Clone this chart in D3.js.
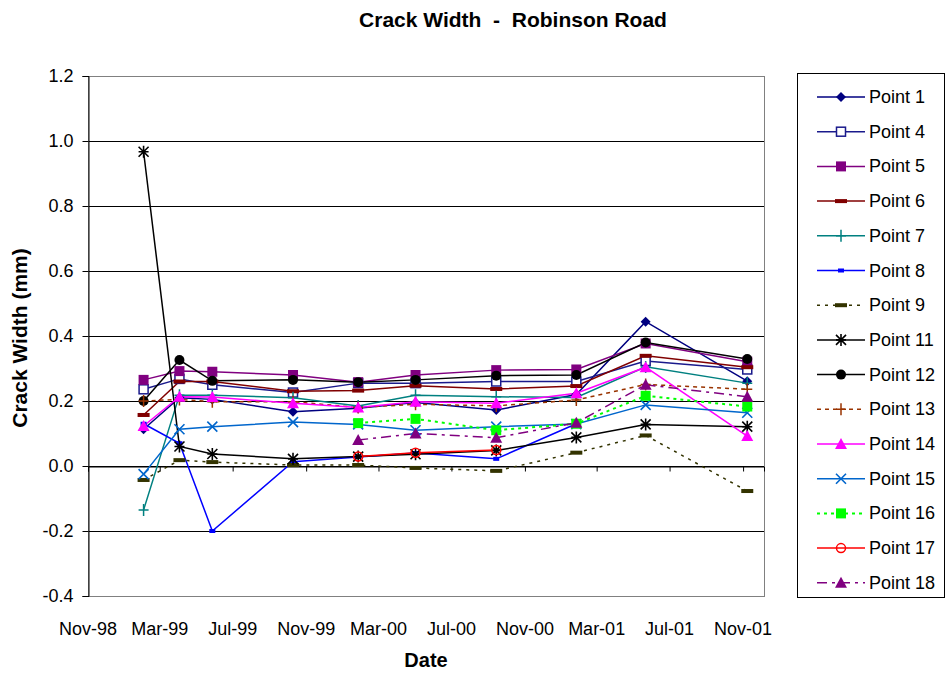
<!DOCTYPE html>
<html><head><meta charset="utf-8">
<script src="https://cdn.jsdelivr.net/npm/d3@7"></script>
<style>body{margin:0;background:#fff}svg{display:block;font-family:"Liberation Sans",Arial,sans-serif}</style>
</head><body><svg id="c" width="946" height="673"></svg>
<script>
const dates = ["1999-02-02","1999-04-03","1999-05-28","1999-10-10","2000-01-27","2000-05-02","2000-09-14","2001-01-26","2001-05-22","2001-11-08"];
const tickDates = ["1998-11-01","1999-03-01","1999-07-01","1999-11-01","2000-03-01","2000-07-01","2000-11-01","2001-03-01","2001-07-01","2001-11-01"];
const yTicks = [-0.4,-0.2,0,0.2,0.4,0.6,0.8,1.0,1.2];
const seriesNames = ["Point 1","Point 4","Point 5","Point 6","Point 7","Point 8","Point 9","Point 11","Point 12","Point 13","Point 14","Point 15","Point 16","Point 17","Point 18"];
const p1  = [0.113,0.21,0.205,0.167,0.178,0.195,0.172,0.22,0.444,0.261];
const p4  = [0.236,0.268,0.25,0.226,0.255,0.255,0.26,0.26,0.323,0.297];
const p5  = [0.265,0.292,0.29,0.28,0.258,0.28,0.295,0.297,0.377,0.321];
const p6  = [0.157,0.26,0.26,0.23,0.232,0.247,0.237,0.246,0.339,0.304];
const p7  = [-0.135,0.218,0.218,0.21,0.185,0.218,0.213,0.211,0.305,0.255];
const p8  = [0.13,0.07,-0.2,0.013,0.028,0.04,0.022,0.13,null,null];
const p9  = [-0.043,0.018,0.012,0.003,0.003,-0.006,-0.015,0.041,0.094,-0.077];
const p11 = [0.967,0.06,0.037,0.022,0.029,0.036,0.048,0.088,0.128,0.121];
const p12 = [0.2,0.326,0.262,0.265,0.258,0.265,0.278,0.28,0.38,0.329];
const p13 = [0.2,0.205,0.198,0.198,0.18,0.19,0.185,0.203,0.251,0.236];
const p14 = [0.123,0.213,0.212,0.193,0.18,0.198,0.193,0.224,0.304,0.092];
const p15 = [-0.025,0.113,0.121,0.135,0.128,0.11,0.121,0.129,0.188,0.164];
const p16 = [null,null,null,null,0.132,0.145,0.11,0.13,0.216,0.183];
const p17 = [null,null,null,null,0.029,0.041,0.049,null,null,null];
const p18 = [null,null,null,null,0.08,0.1,0.087,0.133,0.25,0.213];
const seriesValues = [p1,p4,p5,p6,p7,p8,p9,p11,p12,p13,p14,p15,p16,p17,p18];
const colors = ["#000080","#1a1a8c","#800080","#800000","#008080","#0000FF","#333300","#000000","#000000","#993300","#FF00FF","#0066CC","#00FF00","#FF0000","#800080"];
const markers = ["diamond","opensquare","square","dash","plus","smalldash","dash","asterisk","circle","plus","triangle","x","square","opencircle","triangle"];
const dashes = [null,null,null,null,null,null,"3,5",null,null,"4,4",null,null,"3,4",null,"10,5,3,5"];

const parse = d3.timeParse("%Y-%m-%d");
const svg = d3.select("#c");
const L=88,R=764,T=76,B=596;
const x = d3.scaleTime().domain([parse("1998-11-01"), parse("2001-12-06")]).range([L,R]);
const y = d3.scaleLinear().domain([-0.4,1.2]).range([B,T]);

svg.append("g").selectAll("line").data(yTicks.filter(v=>v>-0.39&&v<1.19)).join("line")
  .attr("x1",L).attr("x2",R).attr("y1",d=>Math.round(y(d))+0.5).attr("y2",d=>Math.round(y(d))+0.5)
  .attr("stroke","#000").attr("stroke-width",1);
svg.append("rect").attr("x",L+0.5).attr("y",T+0.5).attr("width",R-L).attr("height",B-T)
  .attr("fill","none").attr("stroke","#808080").attr("stroke-width",1);

const ya = svg.append("g").attr("transform",`translate(${L+0.5},0)`)
  .call(d3.axisLeft(y).tickValues(yTicks).tickSize(6).tickPadding(9).tickFormat(d=>d.toFixed(1)));
ya.select(".domain").attr("stroke","#000");
ya.selectAll("text").attr("font-size",18).attr("fill","#000").attr("font-family","Liberation Sans, Arial");
ya.selectAll(".tick line").attr("stroke","#000");
ya.selectAll(".tick").attr("transform",d=>`translate(0,${Math.round(y(d))+0.5})`);

const y0 = Math.round(y(0))+0.5;
const xa = svg.append("g").attr("transform",`translate(0,${y0})`)
  .call(d3.axisBottom(x).tickValues(tickDates.map(parse)).tickSize(5).tickFormat(""));
xa.select(".domain").attr("stroke","#000");
xa.selectAll(".tick line").attr("stroke","#000");
svg.append("g").selectAll("text").data(tickDates.map(parse)).join("text")
  .attr("x",d=>x(d)).attr("y",635).attr("text-anchor","middle")
  .attr("font-size",18).attr("fill","#000").text(d3.timeFormat("%b-%y"));

function marker(g, type, cx, cy, col){
  switch(type){
    case "diamond": g.append("path").attr("d",`M${cx},${cy-5}L${cx+5},${cy}L${cx},${cy+5}L${cx-5},${cy}Z`).attr("fill",col); break;
    case "opensquare": g.append("rect").attr("x",cx-4.5).attr("y",cy-4.5).attr("width",9).attr("height",9).attr("fill","#fff").attr("stroke",col).attr("stroke-width",1.5); break;
    case "square": g.append("rect").attr("x",cx-5).attr("y",cy-5).attr("width",10).attr("height",10).attr("fill",col); break;
    case "dash": g.append("rect").attr("x",cx-6).attr("y",cy-2).attr("width",12).attr("height",4).attr("fill",col); break;
    case "smalldash": g.append("rect").attr("x",cx-3).attr("y",cy-2).attr("width",6).attr("height",4).attr("fill",col); break;
    case "plus": g.append("path").attr("d",`M${cx-5},${cy}H${cx+5}M${cx},${cy-6}V${cy+6}`).attr("stroke",col).attr("stroke-width",1.5).attr("fill","none"); break;
    case "asterisk": g.append("path").attr("d",`M${cx-5},${cy-5}L${cx+5},${cy+5}M${cx-5},${cy+5}L${cx+5},${cy-5}M${cx},${cy-6}V${cy+6}M${cx-5},${cy}H${cx+5}`).attr("stroke",col).attr("stroke-width",1.6).attr("fill","none"); break;
    case "circle": g.append("circle").attr("cx",cx).attr("cy",cy).attr("r",5).attr("fill",col); break;
    case "opencircle": g.append("circle").attr("cx",cx).attr("cy",cy).attr("r",4.5).attr("fill","none").attr("stroke",col).attr("stroke-width",1.5); break;
    case "triangle": g.append("path").attr("d",`M${cx},${cy-6}L${cx+6},${cy+5}L${cx-6},${cy+5}Z`).attr("fill",col); break;
    case "x": g.append("path").attr("d",`M${cx-5},${cy-5}L${cx+5},${cy+5}M${cx-5},${cy+5}L${cx+5},${cy-5}`).attr("stroke",col).attr("stroke-width",1.6).attr("fill","none"); break;
  }
}

const line = d3.line().defined(d=>d.v!=null).x(d=>x(d.d)).y(d=>y(d.v));
const plot = svg.append("g");
seriesValues.forEach((vals,i)=>{
  const pts = vals.map((v,j)=>({d:parse(dates[j]),v}));
  plot.append("path").datum(pts).attr("d",line).attr("fill","none")
    .attr("stroke",colors[i]).attr("stroke-width",i===12?2:1.5)
    .attr("stroke-dasharray",dashes[i]);
});
seriesValues.forEach((vals,i)=>{
  const g = plot.append("g");
  vals.forEach((v,j)=>{ if(v!=null) marker(g, markers[i], x(parse(dates[j])), y(v), colors[i]); });
});

svg.append("rect").attr("x",797.5).attr("y",73.5).attr("width",147).attr("height",524)
  .attr("fill","#fff").attr("stroke","#000").attr("stroke-width",1);
seriesNames.forEach((n,i)=>{
  const ly = 97 + i*34.7;
  const g = svg.append("g");
  g.append("line").attr("x1",817).attr("x2",865).attr("y1",ly).attr("y2",ly)
    .attr("stroke",colors[i]).attr("stroke-width",i===12?2:1.5).attr("stroke-dasharray",dashes[i]);
  marker(g, markers[i], 841, ly, colors[i]);
  g.append("text").attr("x",869).attr("y",ly+6).attr("font-size",18).attr("fill","#000").text(n);
});

svg.append("text").attr("x",513).attr("y",27).attr("text-anchor","middle").attr("font-size",21)
  .attr("font-weight","bold").style("white-space","pre").text("Crack Width  -  Robinson Road");
svg.append("text").attr("transform","translate(27,338) rotate(-90)").attr("text-anchor","middle")
  .attr("font-size",21).attr("font-weight","bold").text("Crack Width (mm)");
svg.append("text").attr("x",426).attr("y",667).attr("text-anchor","middle").attr("font-size",20)
  .attr("font-weight","bold").text("Date");
</script></body></html>
